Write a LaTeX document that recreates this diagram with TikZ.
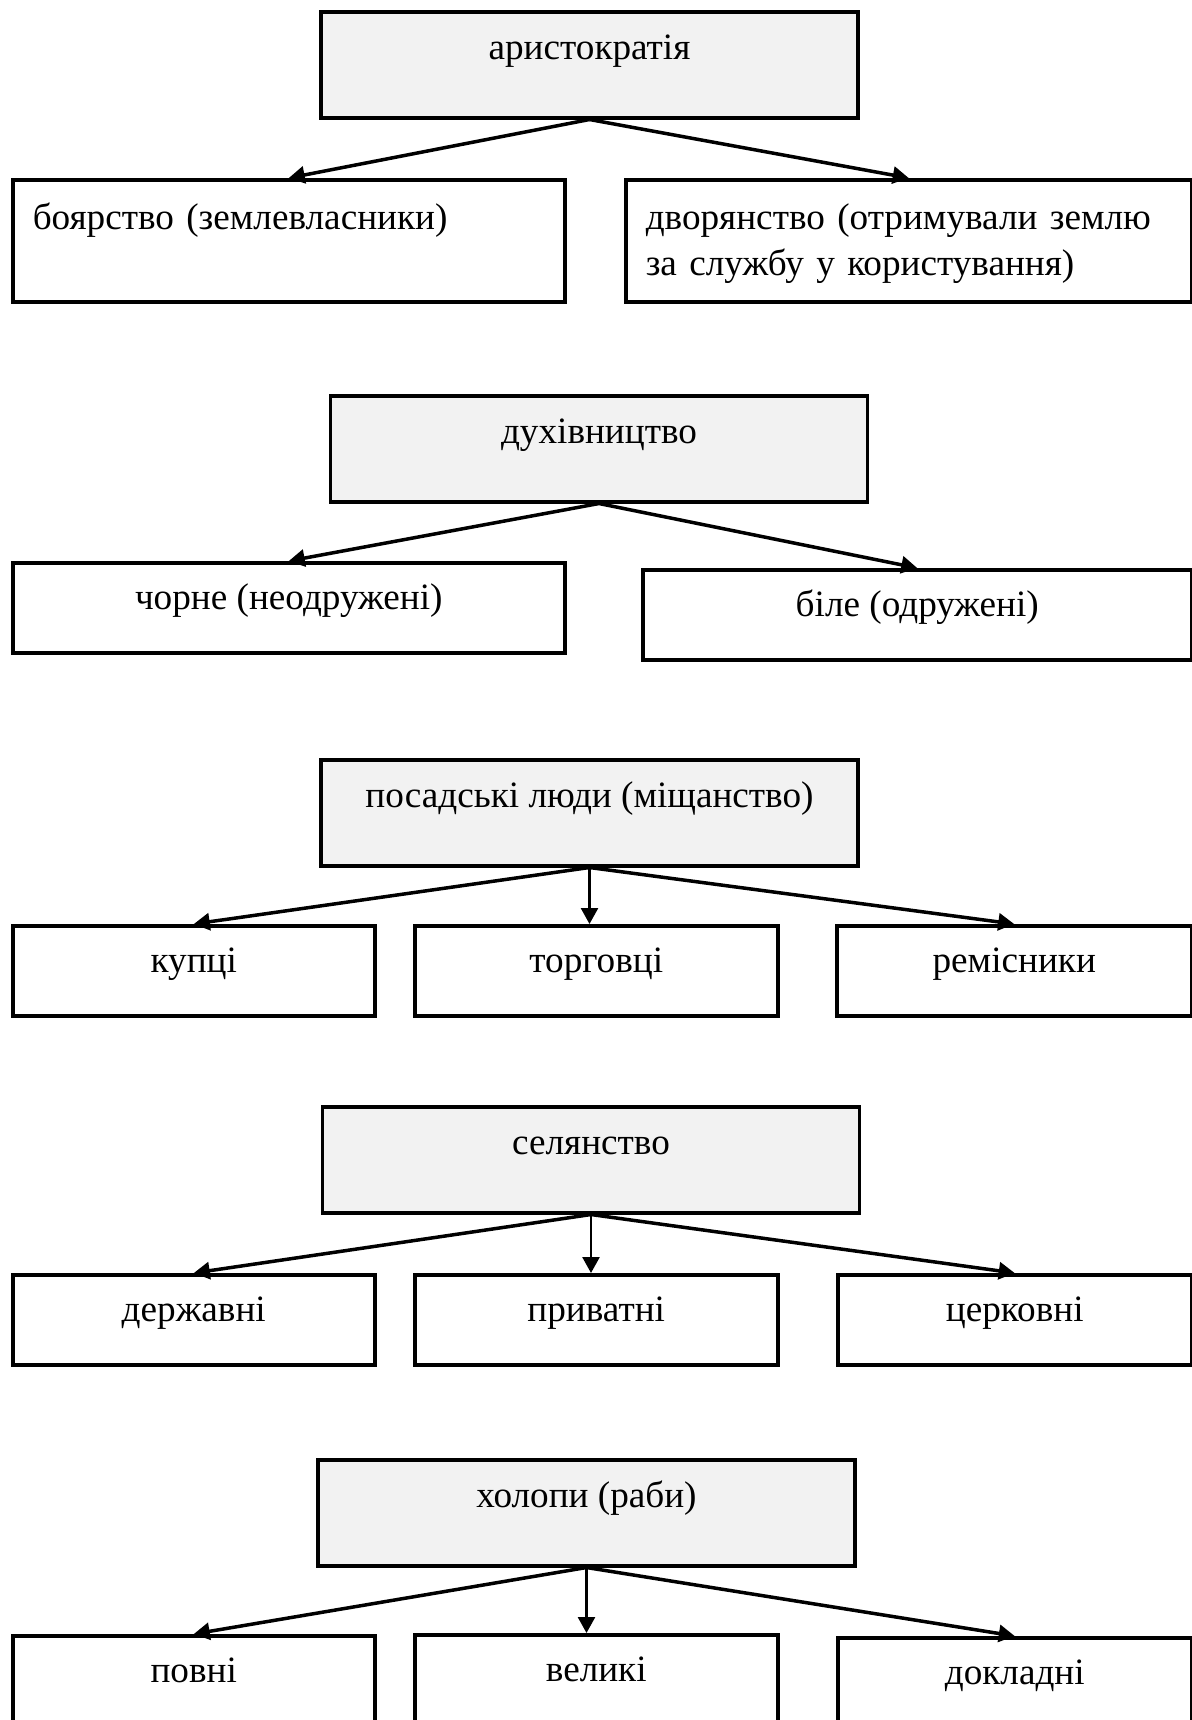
\documentclass[tikz,border=0pt]{standalone}
\usepackage{fontspec}
\setmainfont{Liberation Serif}
\usepackage{tikz}
\usetikzlibrary{arrows.meta}
\definecolor{headgray}{HTML}{F2F2F2}
\tikzset{
  headbox/.style={draw=black, fill=headgray, line width=1.75pt, inner sep=0pt, anchor=north, minimum width=268.5pt, text height=24pt, text depth=29pt},
  leafbox/.style={draw=black, fill=white, line width=1.75pt, inner sep=0pt, anchor=north west, text height=23.5pt, text depth=21.5pt},
  notebox/.style={leafbox, align=left, inner xsep=10pt, text height=25pt, text depth=36pt},
  edge/.style={-{Triangle[length=8pt, width=8.5pt]}, line width=1.75pt, draw=black},
  downedge/.style={-{Triangle[length=8pt, width=8.5pt]}, line width=1.3pt, draw=black}
}

\begin{document}
\begin{tikzpicture}[x=0.5pt, y=-0.5pt, font=\fontsize{18.6pt}{23pt}\selectfont]
  \useasboundingbox (0,0) rectangle (1192,1720);
  \clip (0,0) rectangle (1192,1720);
  % аристократія
  \node[headbox] (arist) at (589.5,10) {аристократія};
  \node[notebox, text width=256pt] (boyar) at (11,178) {боярство (землевласники)};
  \node[notebox, text width=263pt] (dvor) at (624,178) {дворянство (отримували землю\\за службу у користування)};
  \draw[edge] (arist.south) -- (boyar.north);
  \draw[edge] (arist.south) -- (dvor.north);
  % духівництво
  \node[headbox] (duch) at (599,394) {духівництво};
  \node[leafbox, minimum width=276pt] (black) at (11,561) {чорне (неодружені)};
  \node[leafbox, minimum width=274.5pt] (white) at (641,568) {біле (одружені)};
  \draw[edge] (duch.south) -- (black.north);
  \draw[edge] (duch.south) -- (white.north);
  % посадські люди
  \node[headbox] (posad) at (589.5,758) {посадські люди (міщанство)};
  \node[leafbox, minimum width=181pt] (kupci) at (11,924) {купці};
  \node[leafbox, minimum width=181.5pt] (torg) at (413,924) {торговці};
  \node[leafbox, minimum width=177.5pt] (remis) at (835,924) {ремісники};
  \draw[edge] (posad.south) -- (kupci.north);
  \draw[downedge] (posad.south) -- (posad.south |- torg.north);
  \draw[edge] (posad.south) -- (remis.north);
  % селянство
  \node[headbox] (selo) at (591,1105) {селянство};
  \node[leafbox, minimum width=181pt] (derzh) at (11,1273) {державні};
  \node[leafbox, minimum width=181.5pt] (pryv) at (413,1273) {приватні};
  \node[leafbox, minimum width=177pt] (cerk) at (836,1273) {церковні};
  \draw[edge] (selo.south) -- (derzh.north);
  \draw[downedge] (selo.south) -- (selo.south |- pryv.north);
  \draw[edge] (selo.south) -- (cerk.north);
  % холопи
  \node[headbox] (holop) at (586.5,1458) {холопи (раби)};
  \node[leafbox, minimum width=181pt, text depth=30pt] (povni) at (11,1634) {повні};
  \node[leafbox, minimum width=181.5pt, text depth=30pt] (velyki) at (413,1633) {великі};
  \node[leafbox, minimum width=177pt, text depth=30pt] (dokl) at (836,1636) {докладні};
  \draw[edge] (holop.south) -- (povni.north);
  \draw[downedge] (holop.south) -- (holop.south |- velyki.north);
  \draw[edge] (holop.south) -- (dokl.north);
\end{tikzpicture}
\end{document}
